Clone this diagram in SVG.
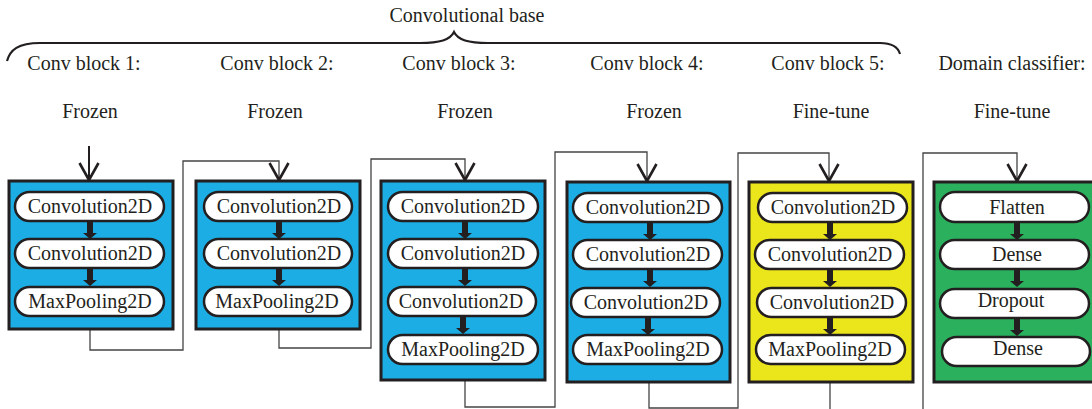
<svg xmlns="http://www.w3.org/2000/svg" width="1092" height="409" viewBox="0 0 1092 409">
<defs>
<g id="pa" fill="#231f20"><rect x="-3" y="0" width="6" height="13"/><path d="M-7 12 L7 12 L0 18 Z"/></g>
<path id="oa" d="M-9.5 -18 L0 -1 L9.5 -18" fill="none" stroke="#231f20" stroke-width="2.6"/>
</defs>
<rect width="1092" height="409" fill="#fff"/>

<g id="header">
<path d="M7 61 C10 50 18 43 40 43 L420 43 C440 43 450 40 454 32 C458 40 468 43 488 43 L880 43 C892 43 898 47 900 54" fill="none" stroke="#231f20" stroke-width="2.2"/>
<text font-family="Liberation Serif" font-size="20" text-anchor="middle" fill="#231f20" x="467" y="22">Convolutional base</text>
<text font-family="Liberation Serif" font-size="20" text-anchor="middle" fill="#231f20" x="84" y="70">Conv block 1:</text>
<text font-family="Liberation Serif" font-size="20" text-anchor="middle" fill="#231f20" x="277" y="70">Conv block 2:</text>
<text font-family="Liberation Serif" font-size="20" text-anchor="middle" fill="#231f20" x="459" y="70">Conv block 3:</text>
<text font-family="Liberation Serif" font-size="20" text-anchor="middle" fill="#231f20" x="647" y="70">Conv block 4:</text>
<text font-family="Liberation Serif" font-size="20" text-anchor="middle" fill="#231f20" x="828" y="70">Conv block 5:</text>
<text font-family="Liberation Serif" font-size="20" text-anchor="middle" fill="#231f20" x="1012" y="70">Domain classifier:</text>
<text font-family="Liberation Serif" font-size="20" text-anchor="middle" fill="#231f20" x="90" y="118">Frozen</text>
<text font-family="Liberation Serif" font-size="20" text-anchor="middle" fill="#231f20" x="275" y="118">Frozen</text>
<text font-family="Liberation Serif" font-size="20" text-anchor="middle" fill="#231f20" x="465" y="118">Frozen</text>
<text font-family="Liberation Serif" font-size="20" text-anchor="middle" fill="#231f20" x="654" y="118">Frozen</text>
<text font-family="Liberation Serif" font-size="20" text-anchor="middle" fill="#231f20" x="831" y="118">Fine-tune</text>
<text font-family="Liberation Serif" font-size="20" text-anchor="middle" fill="#231f20" x="1012" y="118">Fine-tune</text>
</g>

<g id="connectors" fill="none" stroke="#444" stroke-width="1.3">
<path d="M89 146 L89 180" stroke="#231f20" stroke-width="2"/>
<use href="#oa" x="89" y="181"/>
<path d="M90 329 L90 350 L183 350 L183 161 L279 161 L279 180"/>
<use href="#oa" x="279" y="181"/>
<path d="M279 329 L279 348 L371 348 L371 159 L465 159 L465 180"/>
<use href="#oa" x="465" y="181"/>
<path d="M465 380 L465 407 L555 407 L555 152 L647 152 L647 181"/>
<use href="#oa" x="647" y="182"/>
<path d="M649 382 L649 408 L738 408 L738 153 L829 153 L829 181"/>
<use href="#oa" x="829" y="182"/>
<path d="M830 382 L830 412"/>
<path d="M923 412 L923 153 L1017 153 L1017 181"/>
<use href="#oa" x="1017" y="182"/>
</g>

<g id="block1" stroke="#231f20">
<rect stroke-width="3" x="9" y="181" width="164" height="148" fill="#1bade3"/>
<g fill="#fff" stroke-width="2.5">
<rect x="15" y="192" width="149" height="29" rx="14.5"/>
<rect x="15" y="239" width="149" height="29" rx="14.5"/>
<rect x="15" y="287" width="149" height="29" rx="14.5"/>
</g>
<use href="#pa" x="90" y="221" stroke="none"/>
<use href="#pa" x="90" y="268" stroke="none"/>
<g font-family="Liberation Serif" font-size="20" text-anchor="middle" fill="#231f20" stroke="none">
<text x="90" y="213">Convolution2D</text>
<text x="90" y="260">Convolution2D</text>
<text x="90" y="308">MaxPooling2D</text>
</g>
</g>

<g id="block2" stroke="#231f20">
<rect stroke-width="3" x="196" y="181" width="164" height="148" fill="#1bade3"/>
<g fill="#fff" stroke-width="2.5">
<rect x="204" y="192" width="148" height="29" rx="14.5"/>
<rect x="204" y="239" width="148" height="29" rx="14.5"/>
<rect x="204" y="287" width="148" height="29" rx="14.5"/>
</g>
<use href="#pa" x="279" y="221" stroke="none"/>
<use href="#pa" x="279" y="268" stroke="none"/>
<g font-family="Liberation Serif" font-size="20" text-anchor="middle" fill="#231f20" stroke="none">
<text x="279" y="213">Convolution2D</text>
<text x="279" y="260">Convolution2D</text>
<text x="277" y="308">MaxPooling2D</text>
</g>
</g>

<g id="block3" stroke="#231f20">
<rect stroke-width="3" x="381" y="181" width="164" height="199" fill="#1bade3"/>
<g fill="#fff" stroke-width="2.5">
<rect x="388" y="192" width="150" height="29" rx="14.5"/>
<rect x="388" y="239" width="150" height="29" rx="14.5"/>
<rect x="388" y="287" width="148" height="29" rx="14.5"/>
<rect x="388" y="335" width="150" height="29" rx="14.5"/>
</g>
<use href="#pa" x="465" y="221" stroke="none"/>
<use href="#pa" x="465" y="268" stroke="none"/>
<use href="#pa" x="463" y="316" stroke="none"/>
<g font-family="Liberation Serif" font-size="20" text-anchor="middle" fill="#231f20" stroke="none">
<text x="463" y="213">Convolution2D</text>
<text x="463" y="260">Convolution2D</text>
<text x="461" y="308">Convolution2D</text>
<text x="463" y="356">MaxPooling2D</text>
</g>
</g>

<g id="block4" stroke="#231f20">
<rect stroke-width="3" x="567" y="182" width="163" height="200" fill="#1bade3"/>
<g fill="#fff" stroke-width="2.5">
<rect x="573" y="193" width="149" height="29" rx="14.5"/>
<rect x="573" y="240" width="149" height="29" rx="14.5"/>
<rect x="571" y="288" width="149" height="29" rx="14.5"/>
<rect x="573" y="335" width="149" height="29" rx="14.5"/>
</g>
<use href="#pa" x="650" y="222" stroke="none"/>
<use href="#pa" x="650" y="269" stroke="none"/>
<use href="#pa" x="648" y="317" stroke="none"/>
<g font-family="Liberation Serif" font-size="20" text-anchor="middle" fill="#231f20" stroke="none">
<text x="648" y="214">Convolution2D</text>
<text x="648" y="261">Convolution2D</text>
<text x="646" y="309">Convolution2D</text>
<text x="648" y="356">MaxPooling2D</text>
</g>
</g>

<g id="block5" stroke="#231f20">
<rect stroke-width="3" x="749" y="182" width="164" height="200" fill="#ebe51c"/>
<g fill="#fff" stroke-width="2.5">
<rect x="758" y="193" width="149" height="29" rx="14.5"/>
<rect x="755" y="240" width="149" height="29" rx="14.5"/>
<rect x="757" y="288" width="149" height="29" rx="14.5"/>
<rect x="756" y="335" width="149" height="29" rx="14.5"/>
</g>
<use href="#pa" x="830" y="222" stroke="none"/>
<use href="#pa" x="830" y="269" stroke="none"/>
<use href="#pa" x="830" y="317" stroke="none"/>
<g font-family="Liberation Serif" font-size="20" text-anchor="middle" fill="#231f20" stroke="none">
<text x="833" y="214">Convolution2D</text>
<text x="830" y="261">Convolution2D</text>
<text x="832" y="309">Convolution2D</text>
<text x="830" y="356">MaxPooling2D</text>
</g>
</g>

<g id="domain" stroke="#231f20">
<rect stroke-width="3" x="934" y="182" width="170" height="200" fill="#2bb15e"/>
<g fill="#fff" stroke-width="2.5">
<rect x="940" y="192" width="149" height="30" rx="15"/>
<rect x="940" y="240" width="149" height="29" rx="14.5"/>
<rect x="940" y="289" width="149" height="29" rx="14.5"/>
<rect x="942" y="337" width="148" height="29" rx="14.5"/>
</g>
<use href="#pa" x="1017" y="222" stroke="none"/>
<use href="#pa" x="1017" y="269" stroke="none"/>
<use href="#pa" x="1017" y="318" stroke="none"/>
<g font-family="Liberation Serif" font-size="20" text-anchor="middle" fill="#231f20" stroke="none">
<text x="1017" y="214">Flatten</text>
<text x="1017" y="261">Dense</text>
<text x="1011" y="307">Dropout</text>
<text x="1018" y="355">Dense</text>
</g>
</g>
</svg>
